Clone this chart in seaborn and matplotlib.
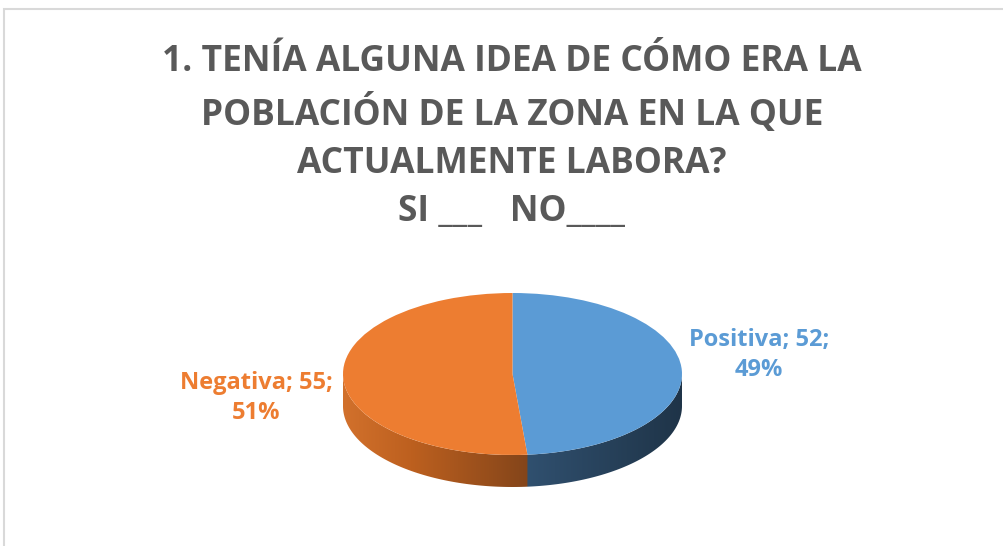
import matplotlib
matplotlib.use("Agg")
import matplotlib.pyplot as plt
import matplotlib.patches as mpatches
from matplotlib.colors import to_rgb
import numpy as np
import seaborn as sns

# data
categories = ["Positiva", "Negativa"]
counts = [52, 55]
percents = [49, 51]
top_colors = ["#5b9bd5", "#ed7d31"]

title = "1. TENÍA ALGUNA IDEA DE CÓMO ERA LA\nPOBLACIÓN DE LA ZONA EN LA QUE\nACTUALMENTE LABORA?\nSI ___   NO____"

sns.set_theme(style="white")
plt.rcParams["font.family"] = ["Open Sans", "DejaVu Sans"]

W, H = 1004, 546
fig = plt.figure(figsize=(W / 100, H / 100), dpi=100)

# chart area border
fig.patches.append(mpatches.Rectangle((4 / W, -0.1), 1.2, 1 - 9 / H + 0.1,
                                      transform=fig.transFigure, fill=False,
                                      edgecolor="#d9d9d9", linewidth=1.5))

fig.text(512 / W, 1 - 44 / H, title, ha="center", va="top", fontsize=25.5,
         fontweight="bold", color="#595959", linespacing=1.45)

# pie axes with a fake 3d side
thick = 0.395
ax = fig.add_axes([343 / W, 1 - 487 / H, 339 / W, 194 / H])

# side wall: horizontal shading, orange on the left, blue on the right
theta_split = np.deg2rad(90 - 360 * counts[0] / sum(counts))
x_split = np.cos(theta_split)
xs = np.linspace(-1, 1, 500)
orange_stops = ([-1.0, -0.6, x_split], ["#d2712c", "#bd601f", "#84451a"])
blue_stops = ([x_split, 1.0], ["#30506f", "#1f3448"])
rgb = np.zeros((len(xs), 3))
for stops, mask in [(orange_stops, xs < x_split), (blue_stops, xs >= x_split)]:
    pos, cols = stops
    cols = np.array([to_rgb(c) for c in cols])
    for k in range(3):
        rgb[mask, k] = np.interp(xs[mask], pos, cols[:, k])
img = np.tile(rgb[None, :, :], (2, 1, 1))
im = ax.imshow(img, extent=(-1, 1, -1 - thick, 0), aspect="auto",
               interpolation="bilinear", zorder=1)
t = np.linspace(np.pi, 2 * np.pi, 200)
verts = np.concatenate([np.c_[np.cos(t), np.sin(t)],
                        np.c_[np.cos(t[::-1]), np.sin(t[::-1]) - thick]])
im.set_clip_path(mpatches.Polygon(verts, closed=True, transform=ax.transData))

# top face
ax.pie(counts, colors=top_colors, startangle=90, counterclock=False,
       center=(0, 0), radius=1, wedgeprops=dict(linewidth=0, zorder=2))
ax.set_aspect("auto")
ax.set_xlim(-1, 1)
ax.set_ylim(-1 - thick, 1)
ax.axis("off")

label_pos = [(1.454, 0.235), (-1.513, -0.296)]
for name, c, p, col, (lx, ly) in zip(categories, counts, percents, top_colors, label_pos):
    ax.text(lx, ly, f"{name}; {c};\n{p}%", ha="center", va="center",
            fontsize=17, fontweight="bold", color=col, linespacing=1.35,
            clip_on=False)

fig.savefig("out.png", dpi=100)
